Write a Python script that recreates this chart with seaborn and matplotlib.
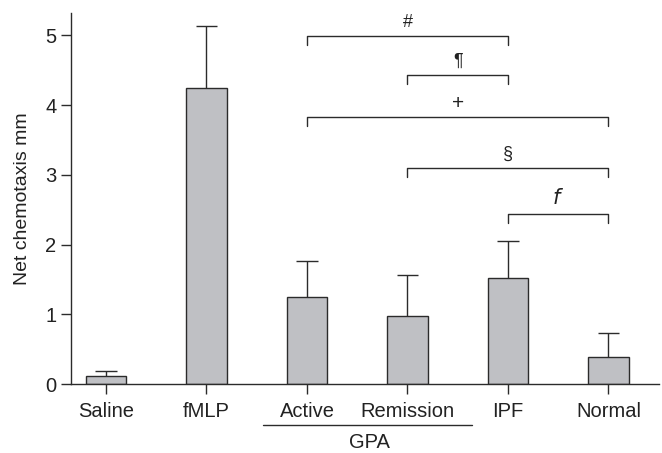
import matplotlib
matplotlib.use("Agg")
import matplotlib.pyplot as plt
import seaborn as sns
import pandas as pd

categories = ["Saline", "fMLP", "Active", "Remission", "IPF", "Normal"]
means = [0.12, 4.25, 1.25, 0.98, 1.52, 0.39]
err_upper = [0.07, 0.88, 0.51, 0.59, 0.53, 0.35]

# significance brackets: (start category index, end category index, height, symbol)
bracket_start = [2, 3, 2, 3, 4]
bracket_end = [4, 4, 5, 5, 5]
bracket_height = [4.99, 4.43, 3.83, 3.10, 2.44]
bracket_symbol = ["#", "¶", "+", "§", "$f$"]

sns.set_style("ticks")
plt.rcParams["font.family"] = ["Liberation Sans", "DejaVu Sans"]
plt.rcParams["mathtext.fontset"] = "dejavusans"

LC = "#2b2b2b"
TC = "#222222"

fig = plt.figure(figsize=(6.62, 4.53), dpi=100)
ax = fig.add_axes([0.107, 0.152, 0.888, 0.819])

df = pd.DataFrame({"group": categories, "value": means})
sns.barplot(data=df, x="group", y="value", order=categories, color="#bfc0c4",
            width=0.4, edgecolor=LC, linewidth=1.0, errorbar=None,
            saturation=1, ax=ax, zorder=2)
for p in ax.patches:
    p.set_facecolor("#bfc0c4")

xs = list(range(len(categories)))
tops = [m + e for m, e in zip(means, err_upper)]
ax.vlines(xs, means, tops, color=LC, lw=1.0, zorder=1)
cap = 0.105
ax.hlines(tops, [x - cap for x in xs], [x + cap for x in xs], color=LC, lw=1.0,
          zorder=1)

drop = 0.13
for s, e, h, sym in zip(bracket_start, bracket_end, bracket_height, bracket_symbol):
    ax.plot([s, s, e, e], [h - drop, h, h, h - drop], color=LC, lw=1.0,
            clip_on=False)
    if sym == "$f$":
        ax.text((s + e) / 2, h + 0.08, sym, ha="center", va="bottom",
                fontsize=15, color=TC)
    elif sym == "+":
        ax.text((s + e) / 2, h + 0.06, sym, ha="center", va="bottom",
                fontsize=15, color=TC)
    else:
        ax.text((s + e) / 2, h + 0.08, sym, ha="center", va="bottom",
                fontsize=13, color=TC)

ax.set_xlim(-0.35, 5.5)
ax.set_ylim(0, 5.32)
ax.set_yticks([0, 1, 2, 3, 4, 5])
ax.set_xlabel("")
ax.set_ylabel("Net chemotaxis mm", fontsize=14, color=TC, labelpad=10)
ax.tick_params(axis="both", labelsize=14.5, length=7, width=1.0, color=LC,
               labelcolor=TC)
ax.tick_params(axis="x", pad=6)
sns.despine(ax=ax)
for sp in ["left", "bottom"]:
    ax.spines[sp].set_color(LC)
    ax.spines[sp].set_linewidth(1.0)

# GPA grouping line and label
ax.plot([1.56, 3.64], [-0.59, -0.59], color=LC, lw=1.0, clip_on=False)
ax.text(2.62, -0.70, "GPA", ha="center", va="top", fontsize=14.5, color=TC)

fig.savefig("out.png", dpi=100)
